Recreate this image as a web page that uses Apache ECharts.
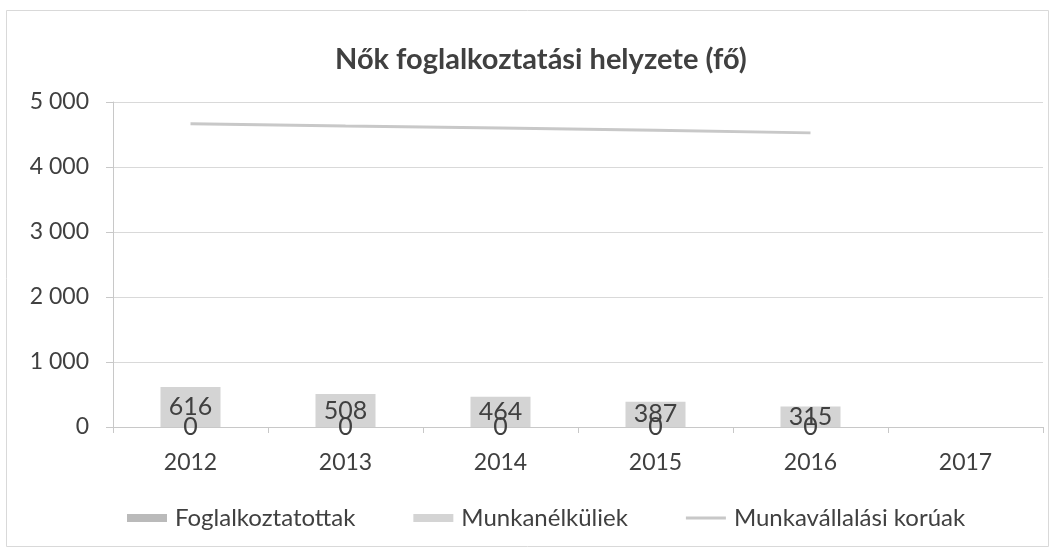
<!DOCTYPE html>
<html>
<head>
<meta charset="utf-8">
<script src="https://cdn.jsdelivr.net/npm/echarts@6/dist/echarts.min.js"></script>
<style>
  html, body { margin: 0; padding: 0; background: #fff; }
  #chart { width: 1054px; height: 551px; }
</style>
</head>
<body>
<div id="chart"></div>
<script>
/* ---------- adatok ---------- */
const years = ["2012", "2013", "2014", "2015", "2016", "2017"];
const foglalkoztatottak = [0, 0, 0, 0, 0, null];
const munkanelkuliek = [616, 508, 464, 387, 315, null];
const munkavallalasiKoruak = [4665, 4630, 4600, 4565, 4525, null];
const yTicks = [0, 1000, 2000, 3000, 4000, 5000];

const FONT = "Lato, 'Open Sans', sans-serif";
const TEXT = "#404040";

// 1000 -> "1 000"
const fmt = (v) => String(v).replace(/\B(?=(\d{3})+(?!\d))/g, " ");

const chart = echarts.init(document.getElementById("chart"));

chart.setOption({
    backgroundColor: "#fff",
    animation: false,
    textStyle: { fontFamily: FONT },
    title: {
        text: "Nők foglalkoztatási helyzete (fő)",
        left: 330,
        top: 40,
        textStyle: { fontFamily: FONT, fontSize: 29, fontWeight: "bold", color: TEXT },
    },
    graphic: [{
        type: "rect",
        shape: { x: 6.5, y: 10.5, width: 1042, height: 536 },
        style: { fill: "none", stroke: "#d9d9d9", lineWidth: 1 },
        silent: true,
    }],
    grid: { left: 113, right: 11, top: 102, bottom: 124 },
    legend: {
        bottom: 16,
        left: 122,
        itemGap: 58,
        itemWidth: 40,
        itemHeight: 8,
        textStyle: { fontFamily: FONT, fontSize: 24, color: TEXT, padding: [0, 0, 0, 3] },
        data: [
            { name: "Foglalkoztatottak", icon: "rect" },
            { name: "Munkanélküliek", icon: "rect" },
            { name: "Munkavállalási korúak", icon: "path://M0,0H40V3H0Z" },
        ],
    },
    xAxis: {
        type: "category",
        data: years,
        axisLine: { lineStyle: { color: "#c8c8c8" } },
        axisTick: { show: true, length: 6, lineStyle: { color: "#c8c8c8" } },
        axisLabel: { fontFamily: FONT, fontSize: 23, color: TEXT, margin: 24 },
    },
    yAxis: {
        type: "value",
        min: yTicks[0],
        max: yTicks[yTicks.length - 1],
        interval: 1000,
        axisLine: { show: true, lineStyle: { color: "#c8c8c8" } },
        axisTick: { show: true, length: 7, lineStyle: { color: "#c8c8c8" } },
        splitLine: { lineStyle: { color: "#d9d9d9" } },
        axisLabel: {
            fontFamily: FONT, fontSize: 23, color: TEXT, margin: 24,
            formatter: (v) => fmt(v),
        },
    },
    series: [
        {
            name: "Foglalkoztatottak",
            type: "bar",
            data: foglalkoztatottak,
            barWidth: 60,
            barGap: "-100%",
            itemStyle: { color: "#bababa" },
            label: {
                show: true, position: "inside",
                fontFamily: FONT, fontSize: 25, color: TEXT,
                formatter: (p) => fmt(p.value),
            },
            z: 3,
        },
        {
            name: "Munkanélküliek",
            type: "bar",
            data: munkanelkuliek,
            barWidth: 60,
            barGap: "-100%",
            itemStyle: { color: "#d4d4d4" },
            label: {
                show: true, position: "inside",
                fontFamily: FONT, fontSize: 25, color: TEXT,
                formatter: (p) => fmt(p.value),
            },
            z: 2,
        },
        {
            name: "Munkavállalási korúak",
            type: "line",
            data: munkavallalasiKoruak,
            symbol: "none",
            lineStyle: { color: "#c8c8c8", width: 3 },
            itemStyle: { color: "#c8c8c8" },
            z: 4,
        },
    ],
});
</script>
</body>
</html>
